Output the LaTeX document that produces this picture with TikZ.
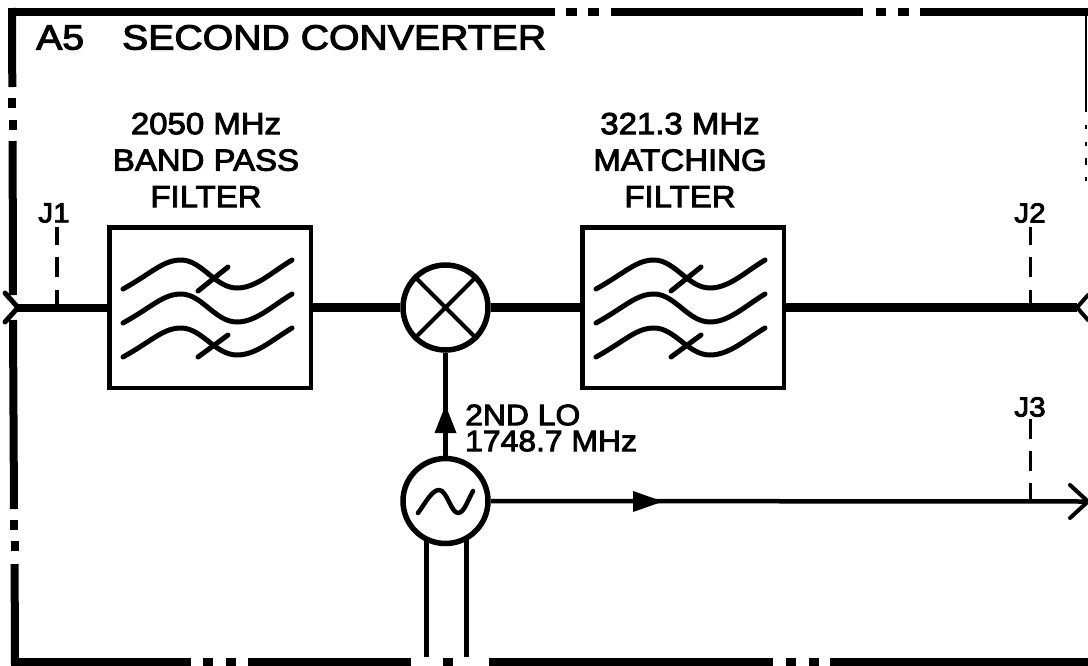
\documentclass[tikz,border=0pt]{standalone}
\usepackage{fontspec}
\newfontfamily\lab[FakeStretch=1.08,FakeBold=3]{Liberation Sans}
\newfontfamily\titlefont[FakeStretch=1.12,FakeBold=3]{Liberation Sans}
\tikzset{
  border/.style={line width=8pt,line cap=butt},
  bline/.style={line width=8.5pt},
  filterbox/.style={draw,line width=4.5pt,minimum width=201.5pt,minimum height=160.5pt,inner sep=0pt},
  roundel/.style={draw,circle,line width=5.5pt,minimum size=85pt,inner sep=0pt},
  squig/.style={line width=5pt,line cap=round},
  jdash/.style={line width=3.5pt},
  sigline/.style={line width=4.5pt},
  chevron/.style={line width=5pt,line cap=round,line join=miter},
  txt/.style={inner sep=0pt,align=center,font=\lab\fontsize{30.5}{36.5}\selectfont},
  jtxt/.style={inner sep=0pt,font=\lab\fontsize{27.5}{26}\selectfont},
}
\newcommand{\filtershape}[1]{%
  \begin{scope}[shift={(#1,0)}]
    \foreach \d/\e in {0/0,34/0,68/-1}{
      \draw[squig] (123,289+\d) .. controls (152,273+\d) and (163,260+\d) .. (181,260+\d)
        .. controls (202,260+\d) and (215,288+\d+\e) .. (237,288+\d+\e)
        .. controls (256,288+\d+\e) and (272,272+\d) .. (292,260+\d);
    }
    \draw[squig] (198,291) -- (228,267);
    \draw[squig] (198,357) -- (228,335);
  \end{scope}}
\begin{document}
\begin{tikzpicture}[x=1pt,y=-1pt]
\useasboundingbox (0,0) rectangle (1088,665);
% frame
\foreach \a/\b in {8/555,566/577,588/599,611/863,876/886,898/909,920/1088}{
  \draw[border] (\a,12) -- (\b,12);}
\foreach \a/\b in {11/191,203/213,226/236,248/411,443/453,489/773,786/796,809/819,830/1088}{
  \draw[border] (\a,661.5) -- (\b,661.5);}
\draw[border] (12,8) -- (12.3,87);
\draw[border] (12.4,98) -- (12.4,108);
\draw[border] (12.5,120) -- (12.5,130);
\draw[border] (12.6,141) -- (13,295);
\draw[border] (13,320) -- (14,509);
\draw[border] (14.4,520) -- (14.4,530);
\draw[border] (14.5,541) -- (14.5,551);
\draw[border] (14.6,564) -- (15,665);
\draw[line width=2pt] (1086,16) -- (1086,112);
\draw[line width=2pt] (1086,125) -- (1086,129);
\draw[line width=2pt] (1086,142) -- (1086,146);
\draw[line width=2pt] (1086,158) -- (1086,165);
\draw[line width=2pt] (1086,177) -- (1086,181);
% blocks
\node[filterbox] (bpf) at (210,307.5) {};
\node[filterbox] (mf) at (683,307.5) {};
\node[roundel] (mix) at (445.5,307.5) {};
\node[roundel] (osc) at (445.5,501) {};
\filtershape{0}
\filtershape{473}
\draw[line width=4pt] (mix.45) -- (mix.225) (mix.135) -- (mix.315);
\draw[line width=4.5pt,line cap=round,line join=round] (418,513) .. controls (426,502) and (432,490) .. (439,490)
  .. controls (447,490) and (451,513) .. (458,513) .. controls (464,513) and (468,500) .. (473,491);
% ports
\coordinate (p1) at (18,307.5);
\coordinate (p2) at (1077,307.5);
\coordinate (p3) at (1088,501.5);
\coordinate (j1) at (57,307);
\coordinate (j2) at (1030.5,307);
\coordinate (j3) at (1030.5,501);
\draw[line width=8pt] (p1) -- (bpf.west);
\draw[bline] (bpf.east) -- (mix.west);
\draw[bline] (mix.east) -- (mf.west);
\draw[bline] (mf.east) -- (p2);
\draw[chevron] (5,293) -- (p1) -- (5,322);
\draw[line width=4pt,line cap=round,line join=miter] (1088,295) -- (p2) -- (1088,320);
\draw[sigline] (osc.north) -- (mix.south);
\fill (445.5,405) -- (456.5,433) -- (434.5,433) -- cycle;
\draw[sigline] (osc.east) -- (p3);
\fill (633,491) -- (663,501.5) -- (633,512) -- cycle;
\draw[line width=4pt,line cap=round,line join=miter] (1070,485) -- (p3) -- (1070,518);
\coordinate (ci1) at (426,657);
\coordinate (ci2) at (466,657);
\draw[line width=5pt] (ci1 |- osc.240) -- (ci1);
\draw[line width=5pt] (ci2 |- osc.300) -- (ci2);
% test points
\draw[jdash] (j1 |- 0,227) -- (j1 |- 0,245) (j1 |- 0,257) -- (j1 |- 0,277) (j1 |- 0,290) -- (j1);
\draw[jdash] (j2 |- 0,227) -- (j2 |- 0,245) (j2 |- 0,257) -- (j2 |- 0,277) (j2 |- 0,290) -- (j2);
\draw[jdash] (j3 |- 0,419) -- (j3 |- 0,439) (j3 |- 0,451) -- (j3 |- 0,471) (j3 |- 0,483) -- (j3);
% text
\node[inner sep=0pt,anchor=west,font=\titlefont\fontsize{35}{36}\selectfont] (title) at (36,37.5) {A5\hspace{38pt}SECOND CONVERTER};
\node[txt] (t1) at (206,160) {2050 MHz\\BAND PASS\\FILTER};
\node[txt] (t2) at (680,160) {321.3 MHz\\MATCHING\\FILTER};
\node[jtxt] (lj1) at (54,213) {J1};
\node[jtxt] (lj2) at (1030,213) {J2};
\node[jtxt] (lj3) at (1030,407) {J3};
\node[inner sep=0pt,anchor=west,align=left,font=\lab\fontsize{29.5}{26}\selectfont] (lo) at (465,428) {2ND LO\\1748.7 MHz};
\end{tikzpicture}
\end{document}
